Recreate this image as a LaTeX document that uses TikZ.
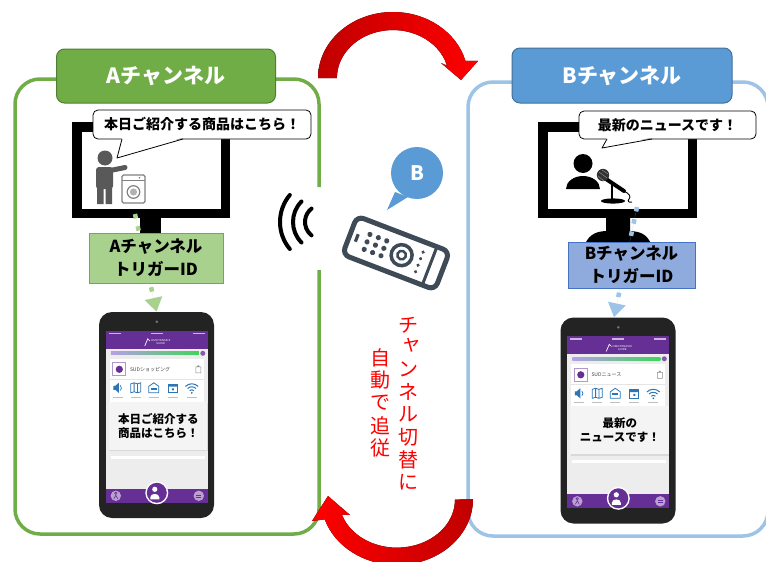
\documentclass[tikz,border=0pt]{standalone}
\usepackage{fontspec}
\newfontfamily\jp{Noto Sans CJK JP}
\usetikzlibrary{arrows.meta,calc}

\definecolor{grnA}{HTML}{70AD47}
\definecolor{grnDk}{HTML}{507E32}
\definecolor{grnLt}{HTML}{A9D18E}
\definecolor{bluB}{HTML}{5B9BD5}
\definecolor{bluDk}{HTML}{41719C}
\definecolor{bluLt}{HTML}{9DC3E6}
\definecolor{bluLbl}{HTML}{8FAADC}
\definecolor{bluLblDk}{HTML}{4472C4}
\definecolor{remote}{HTML}{3E4A56}
\definecolor{apppurple}{HTML}{652F95}
\definecolor{iconblue}{HTML}{2E75B6}
\definecolor{persongray}{HTML}{595959}
\definecolor{redDk}{HTML}{C00000}
\definecolor{scrgray}{HTML}{EDEDED}
\definecolor{popgray}{HTML}{F4F4F4}
\definecolor{phonebody}{HTML}{232323}
\definecolor{progL}{HTML}{B79FE6}
\definecolor{progM}{HTML}{8CC8E8}
\definecolor{progR}{HTML}{3FD45A}

% screen content of the smartphone, drawn in local pixel coordinates
% #1 app name, #2 popup text, #3 popup top, #4 name prefix
\newcommand{\phonescreen}[4]{%
  \fill[scrgray] (7,19) rectangle (109,191);
  \fill[apppurple] (7,19) rectangle (109,37);
  \fill[white!65!apppurple] (10,21) rectangle (22,22.4);
  \fill[white!65!apppurple] (52,21) rectangle (64,22.4);
  \fill[white!65!apppurple] (94,21) rectangle (106,22.4);
  \draw[white, line width=0.7pt, line cap=round] (46,34) -- (49,27) -- (51,29);
  \node[inner sep=0pt, text=white, align=center,
        font=\sffamily\fontsize{2.8}{3.2}\selectfont] (#4logo) at (62,30.5) {OMOTENASHI\\GUIDE};
  \shade[left color=progL, middle color=progM, right color=progR] (12,40) rectangle (100,43);
  \fill[apppurple!80] (104,41.5) circle (2.5);
  % app card
  \fill[white] (11,47) rectangle (105,#3);
  \draw[apppurple!50, line width=0.8pt, fill=white] (14,51) rectangle (27,64);
  \fill[apppurple] (20.5,57.5) circle (3.6);
  \node[anchor=west, inner sep=0pt, text=black!75,
        font=\jp\fontsize{5}{6}\selectfont] (#4app) at (31,57.5) {#1};
  \draw[black!45, line width=0.6pt] (97,55) rectangle (102,61)
        (98.3,55) arc[start angle=180,end angle=360,radius=1.2];
  \draw[black!10, line width=0.5pt] (11,67) -- (105,67);
  % function icons
  \fill[iconblue] (14.5,74) rectangle (16.5,78) (16.5,74) -- (20,71) -- (20,81) -- (16.5,78) -- cycle;
  \draw[iconblue, line width=0.7pt] (21.5,73.5) arc[start angle=-50,end angle=50,radius=3.3];
  \draw[iconblue, line width=0.8pt, line join=round] (32,72) -- (35.3,71) -- (38.6,72) -- (42,71)
        -- (42,80) -- (38.6,81) -- (35.3,80) -- (32,81) -- cycle (35.3,71) -- (35.3,80) (38.6,72) -- (38.6,81);
  \draw[iconblue, line width=0.8pt, line join=round] (50,81) -- (50,74.5) -- (55,71) -- (60,74.5) -- (60,81) -- cycle;
  \fill[iconblue] (52,76) rectangle (58,78);
  \draw[iconblue, line width=0.8pt] (69.5,72.5) rectangle (78.5,81);
  \fill[iconblue] (69.5,72.5) rectangle (78.5,74.8) (73,76.5) rectangle (75,78.5);
  \foreach \r in {3,6,9}
    \draw[iconblue, line width=1pt] (93,81) ++(225:\r) arc[start angle=225,end angle=315,radius=\r];
  \fill[iconblue] (93,81) circle (1);
  \foreach \x in {19,37,55,74,93} \fill[black!25] (\x-5,85) rectangle (\x+5,86);
  % popup message
  \fill[black!15] (10.5,#3+1.5) rectangle (109,#3+49.5);
  \fill[popgray] (10,#3) rectangle (108.5,#3+48);
  \node[inner sep=0pt, align=center, text=black,
        font=\jp\bfseries\fontsize{11.5}{14}\selectfont] (#4pop) at (59.5,#3+24) {#2};
  \fill[white] (12,#3+54) rectangle (106,#3+57);
  % bottom bar
  \fill[apppurple] (7,177) rectangle (109,191);
  \fill[apppurple!45!white] (17,184) circle (5.2);
  \fill[apppurple!45!white] (100,184) circle (5.2);
  \draw[apppurple, line width=0.6pt] (97.5,183) -- (102.5,183) (97.5,185) -- (102.5,185);
  \draw[apppurple, line width=0.6pt] (17,181.5) circle (1.2) (15,187) -- (17,183.5) -- (19,187);
  \fill[white] (58,181) circle (11.5);
  \fill[apppurple] (58,181) circle (10);
  \fill[white] (56,177.5) circle (2.6);
  \fill[white] (51.5,187.5) -- (51.5,185.5) .. controls (51.5,181) and (60.5,181) .. (60.5,185.5) -- (60.5,187.5) -- cycle;
  \fill[black!55] (58,10) circle (1.4);
}

\begin{document}
\begin{tikzpicture}[x=1pt,y=-1pt,
  chanframe/.style={line width=3.5pt, rounded corners=25pt},
  chanhead/.style={rounded corners=8pt, line width=1pt, inner sep=0pt,
      text=white, font=\jp\bfseries\fontsize{21}{24}\selectfont},
  tvscreen/.style={draw=black, fill=white, line width=9.5pt, inner sep=0pt},
  saybox/.style={draw=black, fill=white, line width=0.8pt, rounded corners=5pt,
      inner sep=0pt, font=\jp\bfseries\fontsize{14}{16}\selectfont},
  trigbox/.style={line width=1pt, inner sep=0pt, align=center,
      font=\jp\bfseries\fontsize{16.5}{23}\selectfont},
  trigline/.style={line width=4.5pt, dash pattern=on 4.5pt off 8pt,
      -{Triangle[length=14pt,width=17pt]}},
  phonebox/.style={fill=phonebody, rounded corners=13pt, minimum width=115pt,
      minimum height=206pt, inner sep=0pt},
  vchar/.style={inner sep=0pt, text=red, font=\jp\fontsize{20}{22}\selectfont}]

\useasboundingbox (0,0) rectangle (766,562);
\clip (0,0) rectangle (766,562);
\fill[white] (0,0) rectangle (766,562);

% channel frames
\draw[chanframe, draw=grnA] (319,270) -- (319,534) -- (15,534) -- (15,79) -- (319,79) -- (319,187);
\draw[chanframe, draw=bluLt] (468,82) -- (768,82) -- (768,536) -- (468,536) -- cycle;

% channel headers
\node[chanhead, fill=grnA, draw=grnDk, minimum width=219pt, minimum height=54pt] (hdA) at (166,76) {Aチャンネル};
\node[chanhead, fill=bluB, draw=bluDk, minimum width=220pt, minimum height=55pt] (hdB) at (622,75.5) {Bチャンネル};

% television A
\fill[black] (140,215) rectangle (161,236);
\node[tvscreen, minimum width=148.5pt, minimum height=86.5pt] (tvA) at (151,170) {};
% presenter
\fill[persongray] (105,158) circle (7.5);
\fill[persongray, rounded corners=3pt] (96,167) rectangle (113,189);
\fill[persongray] (97,186) rectangle (103.5,204) (105.5,186) rectangle (112,204);
\draw[persongray, line width=5pt, line cap=round] (110,170.5) -- (125,167.5);
% washing machine
\draw[black!50, line width=1.3pt, fill=white, rounded corners=1.5pt] (122,175) rectangle (145,203);
\draw[black!50, line width=1pt] (122,180.5) -- (145,180.5);
\draw[black!50, line width=1.2pt] (133.5,192) circle (6.3);
\fill[black!30] (133.5,192) circle (3.6);
\fill[black!50] (139.5,177.7) circle (0.9);

% television B
\fill[black] (585,244) .. controls (590,233) and (598,231.5) .. (606,231) -- (606,215) -- (630,215)
   -- (630,231) .. controls (640,231.5) and (647,234) .. (651,244) -- cycle;
\node[tvscreen, minimum width=149.5pt, minimum height=86.5pt] (tvB) at (617.5,170) {};
% news anchor
\fill[black] (583,163.5) circle (9.5);
\fill[black] (566,189) arc[start angle=180,end angle=360,x radius=17,y radius=13] -- cycle;
% microphone
\draw[black, line width=4pt, line cap=round] (606,179) -- (624,191);
\fill[black!80] (603,175) circle (6.2);
\draw[black!45, line width=0.5pt] (599,172) -- (607,178) (598,176) -- (604,181) (602,170) -- (608,174);
\draw[black, line width=1.8pt] (612,184) -- (612,200);
\fill[black] (613,201) ellipse[x radius=12, y radius=2.6];
\draw[black, line width=0.9pt] (624,191) .. controls (630,194) and (631,197) .. (629,199) .. controls (627,201) and (629,203) .. (632,202);

% speech bubbles
\node[saybox, minimum width=218pt, minimum height=29pt] (sayA) at (202,124.5) {本日ご紹介する商品はこちら！};
\fill[white] (122,137.5) -- (117,158) -- (183,137.5) -- cycle;
\draw[line width=0.8pt, line join=round] (122,139) -- (117,158) -- (183,139);
\node[saybox, minimum width=177pt, minimum height=28pt] (sayB) at (667.5,125) {最新のニュースです！};
\fill[white] (607,137.5) -- (602,148) -- (652,137.5) -- cycle;
\draw[line width=0.8pt, line join=round] (607,139) -- (602,148) -- (652,139);

% smartphones
\node[phonebox] (phA) at (156.5,415) {};
\begin{scope}[shift={(phA.north west)}]
  \phonescreen{SUDショッピング}{本日ご紹介する\\商品はこちら！}{90}{pa}
\end{scope}
\node[phonebox] (phB) at (618,420.5) {};
\begin{scope}[shift={(phB.north west)}]
  \phonescreen{SUDニュース}{最新の\\ニュースです！}{89}{pb}
\end{scope}

% trigger id flow from the broadcast to the phone
\coordinate (dA) at (135,214);
\draw[trigline, draw=grnLt, fill=grnLt] (dA) -- (phA.north);
\coordinate (dB) at (637,207);
\draw[trigline, draw=bluLt, fill=bluLt] (dB) -- ([xshift=-4pt]phB.north);

\node[trigbox, fill=grnLt, draw=grnA, minimum width=134pt, minimum height=50pt] (lblA) at (156,258) {Aチャンネル\\トリガーID};
\node[trigbox, fill=bluLbl, draw=bluLblDk, minimum width=127pt, minimum height=46pt] (lblB) at (631.5,265) {Bチャンネル\\トリガーID};

% remote control signal
\foreach \r/\a in {42/140,29/135,17/128}
  \draw[black, line width=4pt, line cap=round] (322,222) ++(\a:\r) arc[start angle=\a,end angle=360-\a,radius=\r];

% remote control
\begin{scope}[shift={(396,253)}, rotate=-21]
  \draw[remote, line width=5pt, rounded corners=7pt, fill=white] (-49.5,-20.5) rectangle (49.5,20.5);
  \draw[remote, line width=3pt] (36,-20.5) -- (36,20.5);
  \draw[remote, line width=3.2pt] (-42,-4) -- (-42,4);
  \foreach \x in {-31,-22,-13}
    \foreach \y in {-8,0,8}
      \fill[remote] (\x,\y) circle (2.6);
  \draw[remote, line width=3.5pt] (6,0) circle (10.5);
  \draw[remote, line width=2.5pt] (6,0) circle (4.3);
  \foreach \y in {-10.5,-3.5,3.5,10.5} \fill[remote] (25,\y) circle (1.8);
\end{scope}

% selected channel bubble
\fill[bluB] (395,192) -- (387,210) -- (408,197) -- cycle;
\node[circle, fill=bluB, minimum size=52pt, inner sep=0pt, text=white,
      font=\jp\bfseries\fontsize{20}{22}\selectfont] (selB) at (417,173) {B};

% channel switching arrows
\fill[left color=redDk, right color=red]
  (318,78) arc[start angle=180,end angle=345,x radius=75,y radius=66]
  -- (478,61) -- (461,80) -- (441,63)
  -- (447,65.6) arc[start angle=345,end angle=180,x radius=56,y radius=48] -- cycle;
\fill[left color=red, right color=redDk]
  (473,499) arc[start angle=0,end angle=162,x radius=76,y radius=66]
  -- (312,521) -- (328,496) -- (350,515)
  -- (341.8,514.5) arc[start angle=162,end angle=0,x radius=58,y radius=48] -- cycle;

% vertical caption
\foreach \c/\dx/\dy [count=\i] in {チ/0/0,ャ/3/-2,ン/0/0,ネ/0/0,ル/0/0,切/0/0,替/0/0,に/0/0}
  \node[vchar] (vr\i) at (408+\dx, 325+22.4*\i-22.4+\dy) {\c};
\foreach \c [count=\i] in {自,動,で,追,従}
  \node[vchar] (vl\i) at (380, 358+22.5*\i-22.5) {\c};

\end{tikzpicture}
\end{document}
